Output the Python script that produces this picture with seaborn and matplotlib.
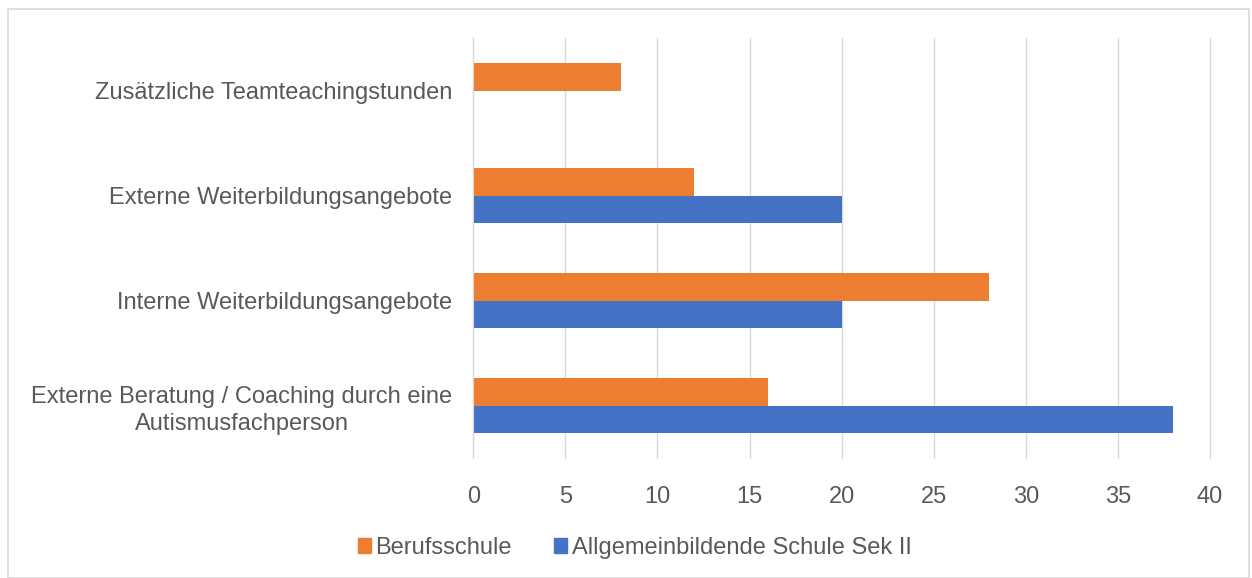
import matplotlib
matplotlib.use("Agg")
import matplotlib.pyplot as plt
import seaborn as sns
import pandas as pd
from matplotlib.patches import Rectangle, Patch

# data
categories = [
    "Zusätzliche Teamteachingstunden",
    "Externe Weiterbildungsangebote",
    "Interne Weiterbildungsangebote",
    "Externe Beratung / Coaching durch eine\nAutismusfachperson",
]
series = ["Berufsschule", "Allgemeinbildende Schule Sek II"]
berufsschule = [8, 12, 28, 16]
allgemein = [0, 20, 20, 38]
colors = ["#ED7D31", "#4472C4"]

df = pd.DataFrame({
    "Kategorie": categories * 2,
    "Schule": [series[0]] * 4 + [series[1]] * 4,
    "Wert": berufsschule + allgemein,
})

sns.set_style("white")
plt.rcParams["font.family"] = ["Liberation Sans", "DejaVu Sans"]
text_col = "#595959"
fs = 17

fig = plt.figure(figsize=(12.52, 5.78), dpi=100)
ax = fig.add_axes([0.378, 0.2076, 0.5885, 0.7266])

sns.barplot(data=df, y="Kategorie", x="Wert", hue="Schule", order=categories,
            hue_order=series, palette=colors, width=0.53, saturation=1,
            orient="h", ax=ax, legend=False, linewidth=0)

ax.set_xlim(0, 40)
ax.set_xticks(range(0, 41, 5))
ax.set_xlabel("")
ax.set_ylabel("")
ax.grid(axis="x", color="#D9D9D9", linewidth=1)
for gl in ax.get_xgridlines():
    gl.set_clip_on(False)
ax.set_axisbelow(True)
for s in ["top", "right", "bottom"]:
    ax.spines[s].set_visible(False)
ax.spines["left"].set_color("#D9D9D9")
ax.tick_params(axis="both", length=0, labelsize=fs, colors=text_col)
ax.tick_params(axis="y", pad=15)
ax.tick_params(axis="x", pad=20)
for lbl in ax.get_yticklabels():
    lbl.set_multialignment("center")
    lbl.set_linespacing(1.3)

handles = [Patch(color=c, label=s) for c, s in zip(colors, series)]
fig.legend(handles=handles, loc="center", bbox_to_anchor=(0.507, 0.052), ncol=2,
           frameon=False, fontsize=fs, handlelength=0.55, handleheight=0.55,
           handletextpad=0.2, columnspacing=1.8, labelcolor=text_col)

fig.patches.append(Rectangle((0.0065, 0.0), 0.9915, 0.984, transform=fig.transFigure,
                             fill=False, edgecolor="#D9D9D9", linewidth=1.2))

fig.savefig("out.png", dpi=100)
